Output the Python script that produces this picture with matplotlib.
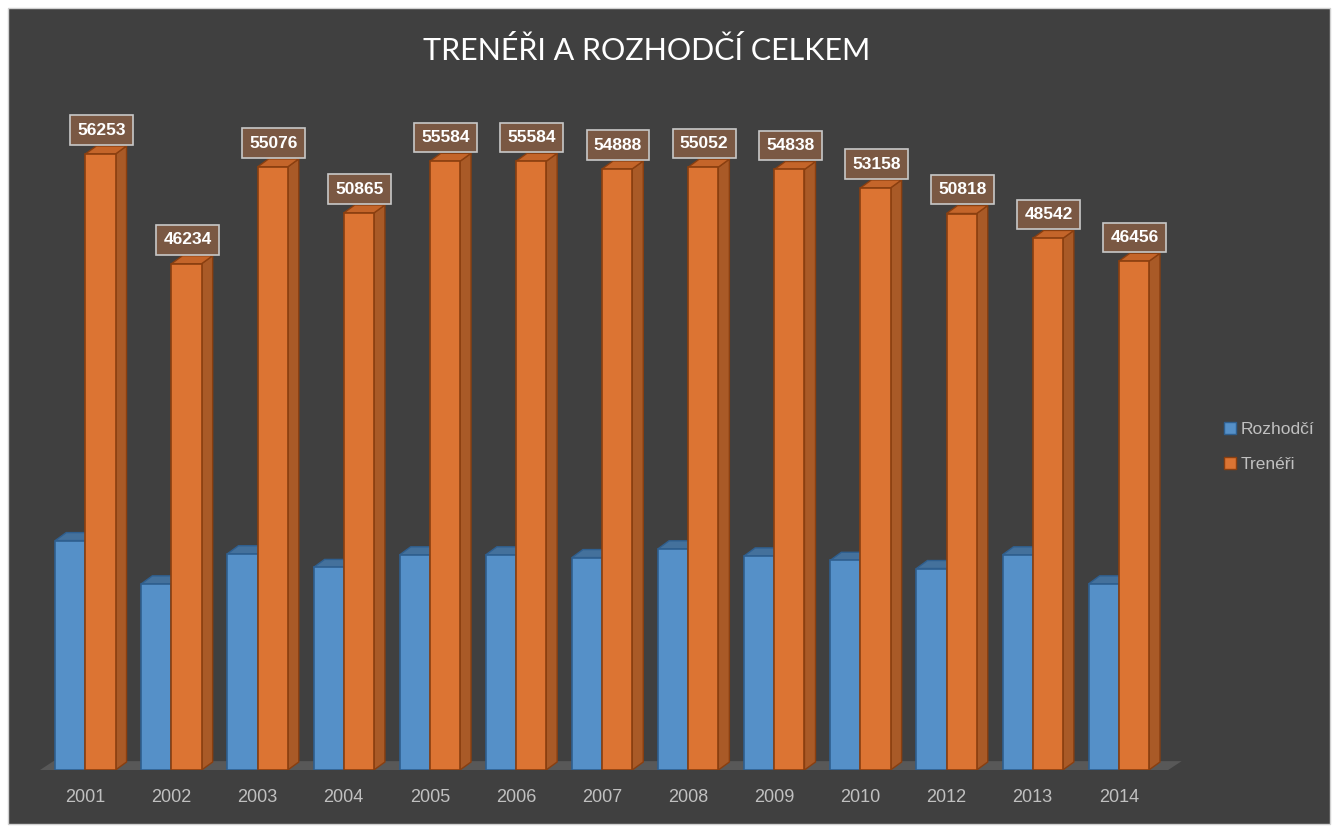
import matplotlib.pyplot as plt
from matplotlib.patches import Polygon, Rectangle

# data
years = ['2001', '2002', '2003', '2004', '2005', '2006', '2007',
         '2008', '2009', '2010', '2012', '2013', '2014']
rozhodci = [20950, 17000, 19750, 18500, 19650, 19650, 19400,
            20200, 19550, 19150, 18400, 19650, 17000]
treneri = [56253, 46234, 55076, 50865, 55584, 55584, 54888,
           55052, 54838, 53158, 50818, 48542, 46456]

bg = '#404040'
blue, blue_edge, blue_top, blue_side = '#5590c8', '#2f5f8f', '#44719c', '#3f6a93'
orange, orange_edge, orange_top, orange_side = '#dc7433', '#8a3f10', '#c4652a', '#a95a27'

W, H = 1338, 832
fig = plt.figure(figsize=(W / 100, H / 100), dpi=100)
fig.patch.set_facecolor('white')
fig.patches.append(Rectangle((8 / W, 8 / H), 1 - 16 / W, 1 - 16 / H,
                             transform=fig.transFigure, facecolor=bg,
                             edgecolor='#d0d0d0', lw=1, zorder=-10))

ax = fig.add_axes([38 / W, 62 / H, (1192 - 38) / W, 668 / H])
ax.set_facecolor('none')
ax.set_xlim(-0.55, 12.85)
ax.set_ylim(0, 61000)

bw = 0.35
dx, dy = 0.128, 730  # fake depth in data units


def bar3d(x0, h, face, edge, top, side):
    x1 = x0 + bw
    ax.add_patch(Polygon([(x1, 0), (x1 + dx, dy), (x1 + dx, h + dy), (x1, h)],
                         closed=True, facecolor=side, edgecolor=edge, lw=1, zorder=2))
    ax.add_patch(Polygon([(x0, h), (x0 + dx, h + dy), (x1 + dx, h + dy), (x1, h)],
                         closed=True, facecolor=top, edgecolor=edge, lw=1, zorder=2))
    ax.bar(x0, h, width=bw, align='edge', color=face, edgecolor=edge, lw=1.2, zorder=3)


# floor
n = len(years)
ax.add_patch(Polygon([(-0.55, -120), (-0.55 + 0.18, dy + 80), (n - 0.45 + 0.18, dy + 80),
                      (n - 0.45, -120)], closed=True, facecolor='#585858',
                     edgecolor='none', zorder=1))

for i in range(n):
    bar3d(i - bw, rozhodci[i], blue, blue_edge, blue_top, blue_side)
    bar3d(i, treneri[i], orange, orange_edge, orange_top, orange_side)
    ax.annotate(str(treneri[i]), (i + bw / 2 + 0.01, treneri[i] + dy),
                xytext=(0, 6), textcoords='offset points', ha='center', va='bottom',
                fontsize=12.5, fontweight='bold', color='white', family='Liberation Sans',
                bbox=dict(boxstyle='square,pad=0.42', facecolor='#7a5843',
                          edgecolor='#c8c8c8', lw=1.2), zorder=5)

ax.set_xticks(range(n))
ax.set_xticklabels(years, fontsize=13, color='#c0c0c0', family='Liberation Sans')
ax.tick_params(axis='x', length=0, pad=14)
ax.set_yticks([])
for s in ax.spines.values():
    s.set_visible(False)

fig.text(647 / W, 1 - 50 / H, 'TRENÉŘI A ROZHODČÍ CELKEM', ha='center', va='center',
         fontsize=22, color='white', family='Lato')

h1 = Rectangle((0, 0), 1, 1, facecolor=blue, edgecolor=blue_edge, lw=1)
h2 = Rectangle((0, 0), 1, 1, facecolor=orange, edgecolor=orange_edge, lw=1)
fig.legend([h1, h2], ['Rozhodčí', 'Trenéři'], loc='center left',
           bbox_to_anchor=(1208 / W, 1 - 447 / H), frameon=False,
           labelcolor='#c0c0c0', handlelength=0.7, handleheight=0.7,
           handletextpad=0.3, labelspacing=1.1, prop={'family': 'Liberation Sans', 'size': 12.5})

fig.savefig('out.png', dpi=100, facecolor=fig.get_facecolor())
